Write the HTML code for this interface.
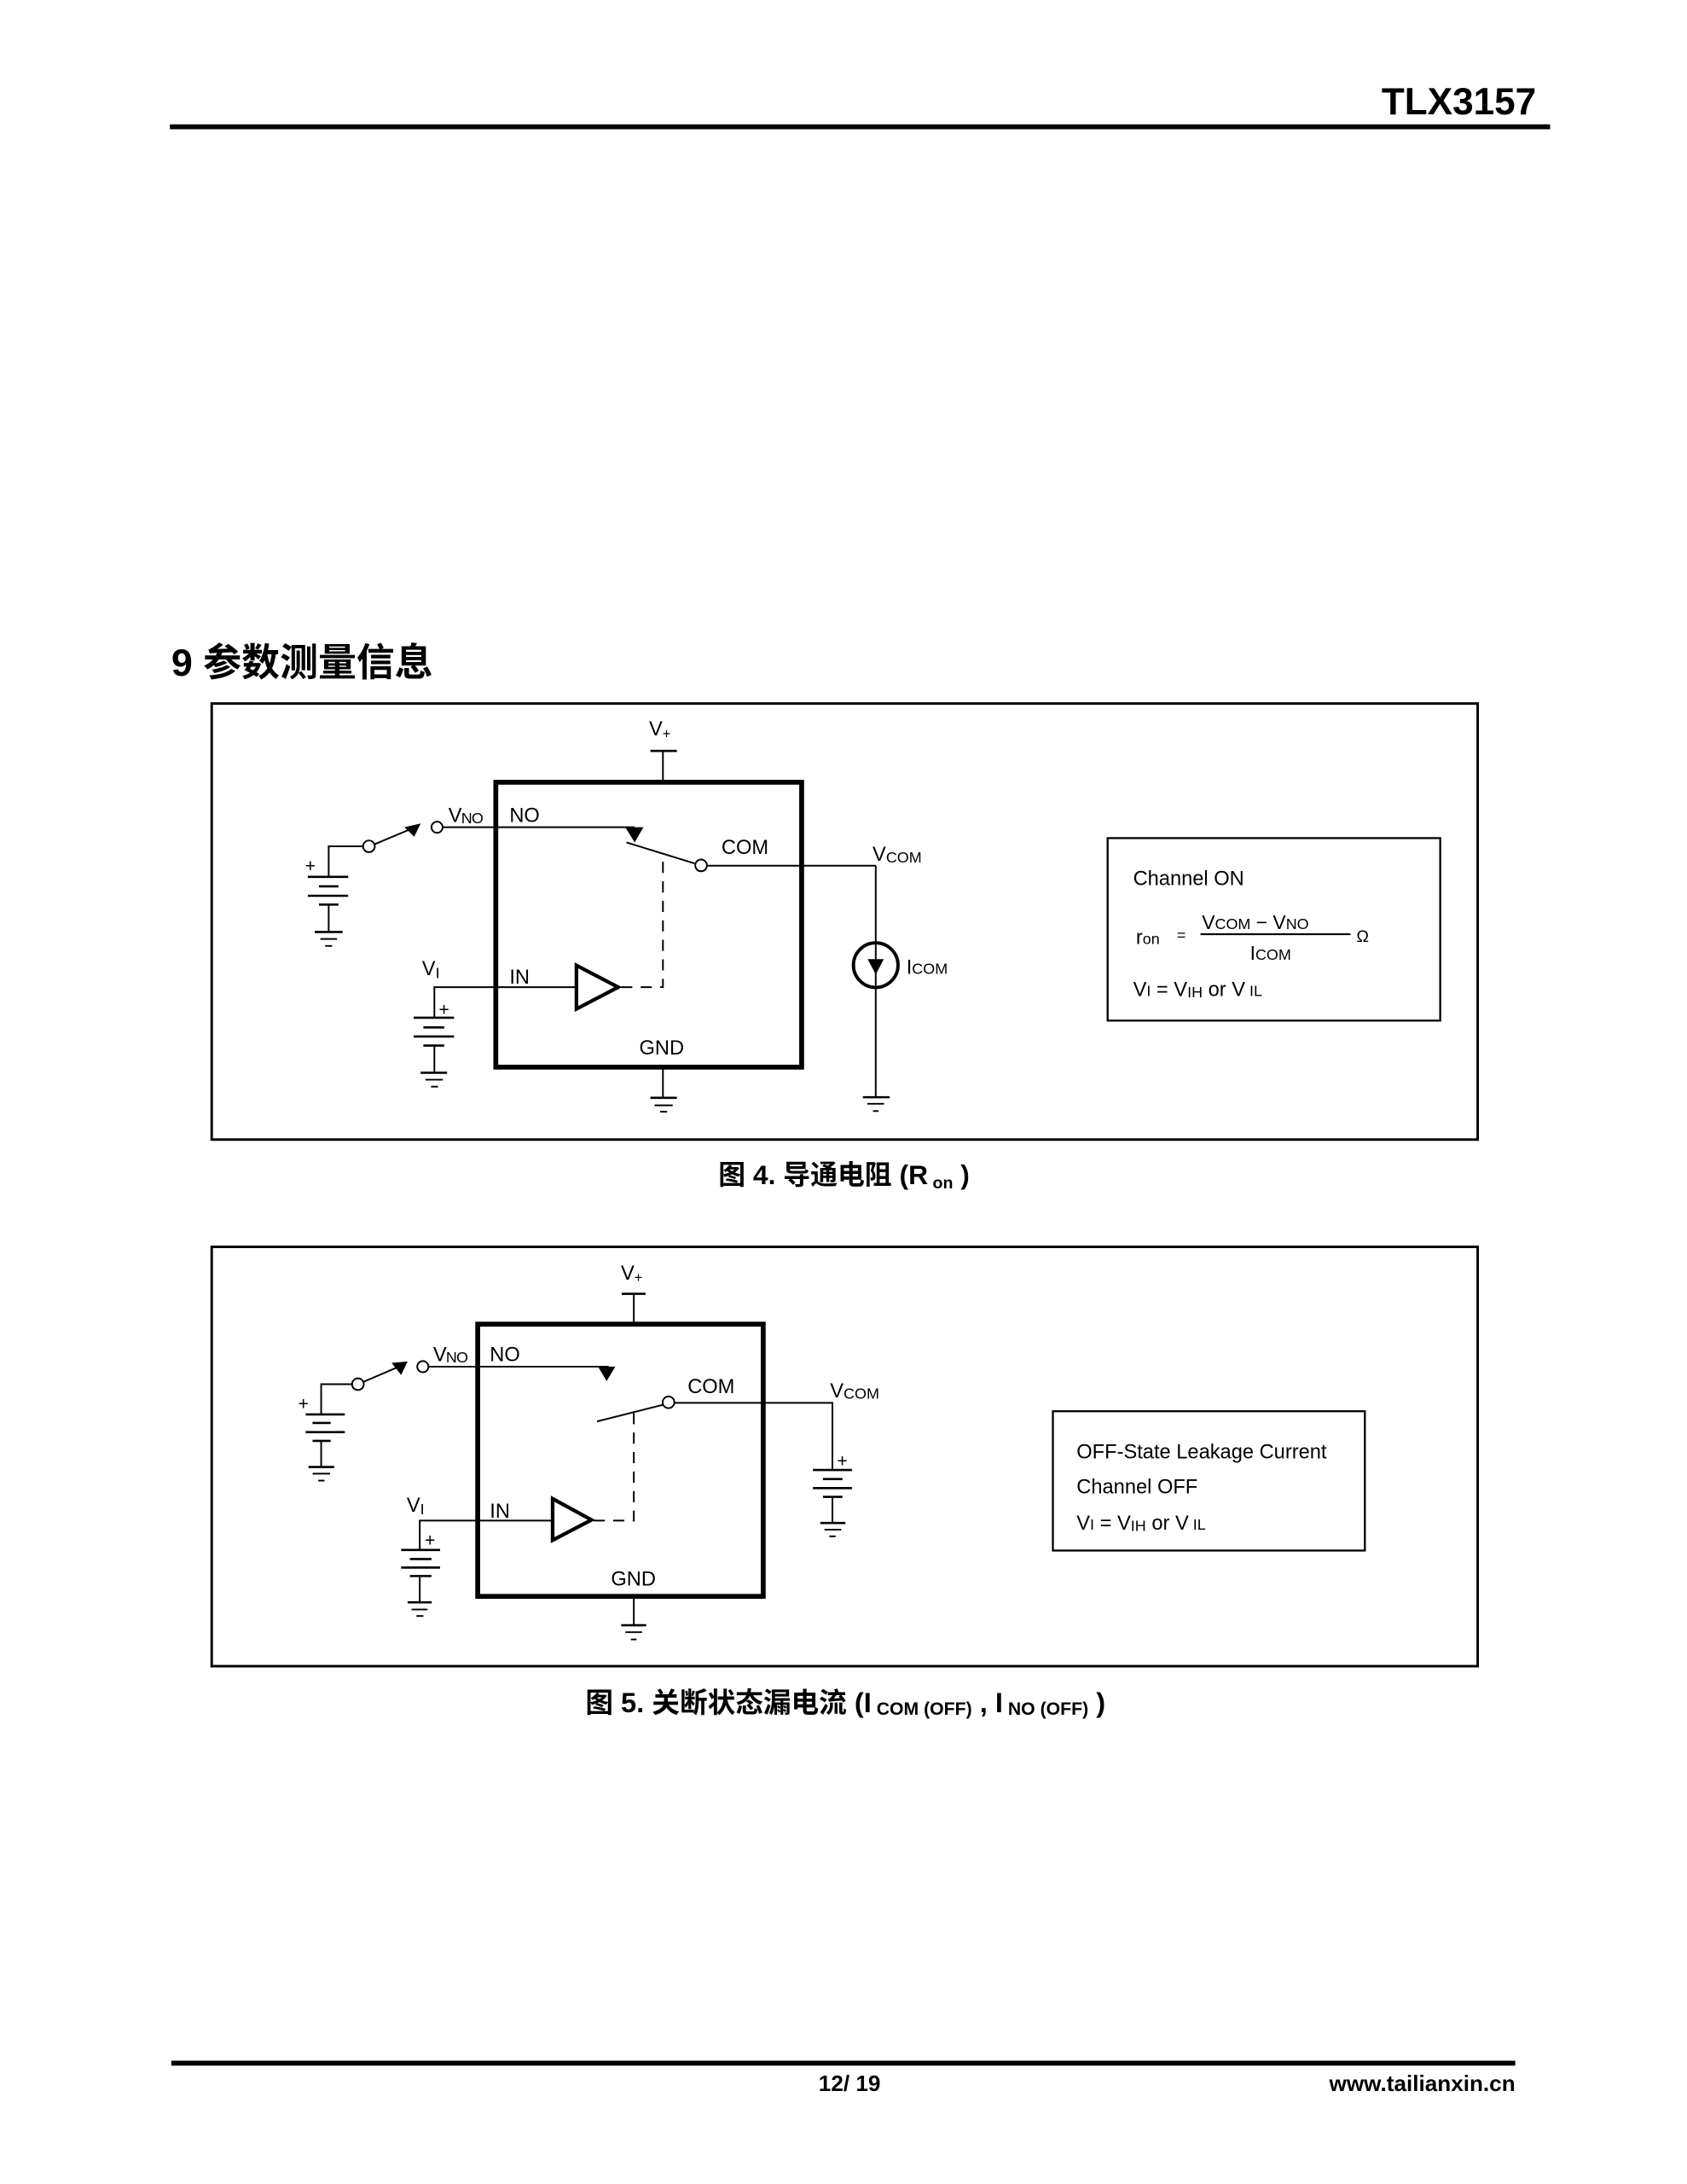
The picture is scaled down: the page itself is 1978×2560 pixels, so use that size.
<!DOCTYPE html>
<html><head><meta charset="utf-8"><style>
html,body{margin:0;padding:0;background:#fff;}
svg{display:block;}
text{font-family:"Liberation Sans","Noto Sans CJK SC",sans-serif;fill:#000;}
.b{font-weight:bold;}
</style></head><body>
<svg width="1978" height="2560" viewBox="0 0 1211.3 1567.7" xmlns="http://www.w3.org/2000/svg">
<g stroke="#000" fill="none" stroke-width="1.2">
<line x1="122" y1="91" x2="1113" y2="91" stroke-width="3.5"/>
<line x1="123" y1="1481" x2="1088" y2="1481" stroke-width="3.5"/>

<rect x="152" y="505" width="909" height="313" stroke-width="1.8"/>
<rect x="356" y="561.5" width="219.6" height="204.5" stroke-width="3.5"/>
<line x1="467" y1="539" x2="486" y2="539" stroke-width="1.6"/>
<line x1="476" y1="539" x2="476" y2="561"/>
<line x1="476" y1="766" x2="476" y2="788"/>
<line x1="467" y1="788" x2="486" y2="788" stroke-width="1.6"/>
<line x1="470" y1="793.4" x2="483" y2="793.4"/>
<line x1="474" y1="798" x2="479" y2="798"/>
<circle cx="313.8" cy="593.8" r="4"/>
<line x1="318" y1="593.8" x2="455.6" y2="593.8"/>
<line x1="449.8" y1="604.7" x2="498.7" y2="619.8"/>
<circle cx="503.4" cy="621.2" r="4.2"/>
<line x1="507.6" y1="621.4" x2="628.8" y2="621.4"/>
<line x1="628.8" y1="621.4" x2="628.8" y2="787.6"/>
<circle cx="628.8" cy="692.8" r="16" fill="#fff" stroke-width="2.4"/>
<line x1="628.8" y1="677" x2="628.8" y2="708.8"/>
<line x1="619.6" y1="787.6" x2="638.8" y2="787.6" stroke-width="1.6"/>
<line x1="622.8" y1="792.3" x2="634.8" y2="792.3"/>
<line x1="626.8" y1="797.5" x2="630.8" y2="797.5"/>
<circle cx="264.9" cy="607.5" r="4.2"/>
<line x1="269" y1="606" x2="293.5" y2="595.7"/>
<polyline points="260.7,607.5 236,607.5 236,629.4"/>
<line x1="221" y1="629.4" x2="250" y2="629.4" stroke-width="1.6"/>
<line x1="229" y1="636.2" x2="243" y2="636.2" stroke-width="1.6"/>
<line x1="221" y1="643" x2="250" y2="643" stroke-width="1.6"/>
<line x1="229" y1="649.3" x2="243" y2="649.3" stroke-width="1.6"/>
<line x1="236" y1="649.3" x2="236" y2="669"/>
<line x1="226" y1="669" x2="246" y2="669" stroke-width="1.6"/>
<line x1="230" y1="674" x2="242" y2="674"/>
<line x1="233.5" y1="679" x2="238.5" y2="679"/>
<polyline points="311.9,730.5 311.9,708.6 413.9,708.6"/>
<polygon points="413.9,693 413.9,724.2 443.9,708.6" stroke-width="2.6"/>
<polyline points="446,708.6 476,708.6 476,615.7" stroke-dasharray="8,6"/>
<line x1="297" y1="730.5" x2="326" y2="730.5" stroke-width="1.6"/>
<line x1="304" y1="737.5" x2="319" y2="737.5" stroke-width="1.6"/>
<line x1="297" y1="744" x2="326" y2="744" stroke-width="1.6"/>
<line x1="304" y1="750.5" x2="319" y2="750.5" stroke-width="1.6"/>
<line x1="311.9" y1="750.5" x2="311.9" y2="770"/>
<line x1="302" y1="770" x2="321" y2="770" stroke-width="1.6"/>
<line x1="305.5" y1="775" x2="318" y2="775"/>
<line x1="309.5" y1="780" x2="314.5" y2="780"/>
<rect x="795.3" y="601.6" width="238.8" height="131" stroke-width="1.4"/>
<line x1="862" y1="670.6" x2="969.7" y2="670.6" stroke-width="1.3"/>

<rect x="152" y="895" width="909" height="301" stroke-width="1.8"/>
<rect x="343" y="950.5" width="205" height="195.4" stroke-width="3.5"/>
<line x1="446.4" y1="928.7" x2="463.5" y2="928.7" stroke-width="1.6"/>
<line x1="455.1" y1="928.7" x2="455.1" y2="950"/>
<line x1="455.1" y1="1146" x2="455.1" y2="1166.6"/>
<line x1="446" y1="1166.6" x2="464" y2="1166.6" stroke-width="1.6"/>
<line x1="449" y1="1171.6" x2="461" y2="1171.6"/>
<line x1="453" y1="1176.8" x2="457" y2="1176.8"/>
<circle cx="303.6" cy="981" r="4"/>
<line x1="307.6" y1="981" x2="437" y2="981"/>
<circle cx="480" cy="1006.6" r="4.2"/>
<line x1="428.7" y1="1020.3" x2="476" y2="1008.4"/>
<polyline points="484,1007 597.7,1007 597.7,1055.2"/>
<line x1="583.7" y1="1055.2" x2="611.7" y2="1055.2" stroke-width="1.6"/>
<line x1="590.9" y1="1061.7" x2="604.9" y2="1061.7" stroke-width="1.6"/>
<line x1="583.7" y1="1068.2" x2="611.7" y2="1068.2" stroke-width="1.6"/>
<line x1="590.9" y1="1074.5" x2="604.9" y2="1074.5" stroke-width="1.6"/>
<line x1="597.7" y1="1074.5" x2="597.7" y2="1093.2"/>
<line x1="589" y1="1093.2" x2="607" y2="1093.2" stroke-width="1.6"/>
<line x1="592" y1="1098" x2="604" y2="1098"/>
<line x1="595.5" y1="1102.8" x2="600" y2="1102.8"/>
<circle cx="257" cy="993.6" r="4.2"/>
<line x1="260.8" y1="992" x2="285" y2="981.6"/>
<polyline points="253,993.6 230.6,993.6 230.6,1015.3"/>
<line x1="219.5" y1="1015.3" x2="247.6" y2="1015.3" stroke-width="1.6"/>
<line x1="224.4" y1="1021.4" x2="237.4" y2="1021.4" stroke-width="1.6"/>
<line x1="219.5" y1="1028" x2="247.6" y2="1028" stroke-width="1.6"/>
<line x1="224.4" y1="1034.3" x2="237.4" y2="1034.3" stroke-width="1.6"/>
<line x1="230.6" y1="1034.3" x2="230.6" y2="1053"/>
<line x1="221.5" y1="1053" x2="240" y2="1053" stroke-width="1.6"/>
<line x1="224.5" y1="1057.8" x2="237" y2="1057.8"/>
<line x1="228.5" y1="1062.8" x2="233" y2="1062.8"/>
<polyline points="301.4,1112.6 301.4,1091.5 396.8,1091.5"/>
<polygon points="396.8,1075.8 396.8,1105.6 424.7,1091" stroke-width="2.6"/>
<polyline points="426.3,1091.5 455.1,1091.5 455.1,1013" stroke-dasharray="8,6"/>
<line x1="288" y1="1112.6" x2="316" y2="1112.6" stroke-width="1.6"/>
<line x1="294.3" y1="1119.1" x2="309.8" y2="1119.1" stroke-width="1.6"/>
<line x1="288" y1="1125.2" x2="316" y2="1125.2" stroke-width="1.6"/>
<line x1="294.3" y1="1131.3" x2="309.8" y2="1131.3" stroke-width="1.6"/>
<line x1="301.4" y1="1131.3" x2="301.4" y2="1150.2"/>
<line x1="292.7" y1="1150.2" x2="310" y2="1150.2" stroke-width="1.6"/>
<line x1="295.5" y1="1155.3" x2="307" y2="1155.3"/>
<line x1="299" y1="1160" x2="304" y2="1160"/>
<rect x="756" y="1013" width="224" height="100" stroke-width="1.4"/>
</g>
<g fill="#000" stroke="none">
<polygon points="449,593.8 462,593.8 455.7,604.7"/>
<polygon points="290.4,593.8 302.1,591.1 297.4,600.6"/>
<polygon points="623,688.5 634.6,688.5 628.8,699.5"/>
<polygon points="429.4,981 441.8,981 435.6,991.4"/>
<polygon points="281.2,978.3 292.7,977.3 288,987"/>
</g>

<text class="b" x="1103" y="82" font-size="27" text-anchor="end">TLX3157</text>
<text class="b" x="123" y="485" font-size="27.5">9 参数测量信息</text>

<g font-size="14.5">
<text x="466" y="528">V<tspan font-size="10" dy="2">+</tspan></text>
<text x="322" y="590" letter-spacing="-0.5">V<tspan font-size="11" dy="1">NO</tspan></text>
<text x="365.8" y="590">NO</text>
<text x="518" y="613">COM</text>
<text x="626.5" y="618">V<tspan font-size="11" dy="1">COM</tspan></text>
<text x="650.8" y="699">I<tspan font-size="11" dy="0">COM</tspan></text>
<text x="365.8" y="706">IN</text>
<text x="303" y="700">V<tspan font-size="11" dy="2">I</tspan></text>
<text x="219" y="626" font-size="13">+</text>
<text x="315" y="729" font-size="13">+</text>
<text x="459" y="757">GND</text>
<text x="813.6" y="635.5">Channel ON</text>
<text x="815.6" y="677.6">r<tspan font-size="11">on</tspan></text>
<text x="845" y="675" font-size="11">=</text>
<text x="863" y="667" font-size="14">V<tspan font-size="11">COM</tspan> − V<tspan font-size="11">NO</tspan></text>
<text x="897.5" y="689" font-size="14">I<tspan font-size="11">COM</tspan></text>
<text x="973.9" y="676" font-size="12">Ω</text>
<text x="813.6" y="715">V<tspan font-size="11">I</tspan> = V<tspan font-size="11" dy="1">IH</tspan><tspan dy="-1"> or V</tspan><tspan font-size="11"> IL</tspan></text>

<text x="445.8" y="918.5">V<tspan font-size="10" dy="2">+</tspan></text>
<text x="311" y="977" letter-spacing="-0.5">V<tspan font-size="11" dy="1">NO</tspan></text>
<text x="351.7" y="977">NO</text>
<text x="493.7" y="1000">COM</text>
<text x="596" y="1003">V<tspan font-size="11" dy="1">COM</tspan></text>
<text x="214" y="1012" font-size="13">+</text>
<text x="601" y="1053" font-size="13">+</text>
<text x="305" y="1110" font-size="13">+</text>
<text x="292" y="1085">V<tspan font-size="11" dy="2">I</tspan></text>
<text x="351.7" y="1089.5">IN</text>
<text x="438.7" y="1138">GND</text>
<text x="773" y="1047">OFF-State Leakage Current</text>
<text x="773" y="1072">Channel OFF</text>
<text x="773" y="1098">V<tspan font-size="11">I</tspan> = V<tspan font-size="11" dy="1">IH</tspan><tspan dy="-1"> or V</tspan><tspan font-size="11"> IL</tspan></text>
</g>

<text class="b" x="606" y="850" font-size="19.5" text-anchor="middle">图 4. 导通电阻 (R<tspan font-size="12" dy="3"> on</tspan><tspan dy="-3"> )</tspan></text>
<text class="b" x="607" y="1229" font-size="20" text-anchor="middle">图 5. 关断状态漏电流 (I<tspan font-size="13" dy="2"> COM (OFF)</tspan><tspan dy="-2"> , I</tspan><tspan font-size="13" dy="2"> NO (OFF)</tspan><tspan dy="-2"> )</tspan></text>

<text class="b" x="610" y="1501" font-size="16" text-anchor="middle">12/ 19</text>
<text class="b" x="1088" y="1501" font-size="16" text-anchor="end">www.tailianxin.cn</text>
</svg>
</body></html>
